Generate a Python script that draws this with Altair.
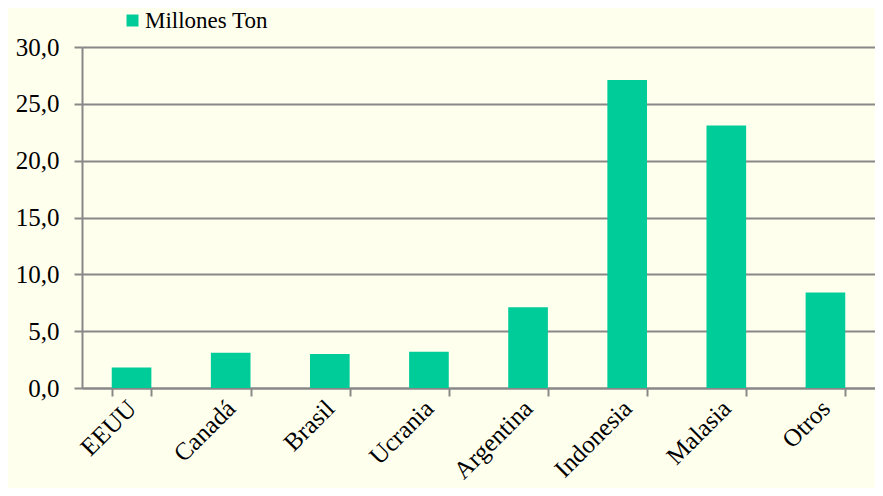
import altair as alt
import pandas as pd

categories = ["EEUU", "Canadá", "Brasil", "Ucrania", "Argentina", "Indonesia", "Malasia", "Otros"]
values = [1.8, 3.1, 3.0, 3.2, 7.1, 27.1, 23.1, 8.4]
series = ["Millones Ton"] * len(categories)

df = pd.DataFrame({"País": categories, "Valor": values, "Serie": series})

FONT = "Liberation Serif"
GRAY = "#888888"

chart = alt.Chart(df).mark_bar(color="#00CC99").encode(
    x=alt.X("País:N", sort=categories,
            scale=alt.Scale(paddingInner=0.6, paddingOuter=0.3, round=False),
            axis=alt.Axis(title=None, labelAngle=-45, labelAlign="right", labelBaseline="middle",
                          labelPadding=8, tickBand="extent", tickSize=8, tickColor=GRAY,
                          tickWidth=2, domainColor=GRAY, domainWidth=2, grid=False,
                          labelFont=FONT, labelFontSize=25, labelColor="black")),
    y=alt.Y("Valor:Q", scale=alt.Scale(domain=[0, 30], nice=False),
            axis=alt.Axis(title=None, values=[0, 5, 10, 15, 20, 25, 30],
                          labelExpr="replace(format(datum.value, '.1f'), '.', ',')",
                          tickSize=8, tickColor=GRAY, tickWidth=2, domainColor=GRAY, domainWidth=2,
                          gridColor=GRAY, gridWidth=2, labelPadding=15,
                          labelFont=FONT, labelFontSize=25, labelColor="black")),
    color=alt.Color("Serie:N", scale=alt.Scale(range=["#00CC99"]),
                    legend=alt.Legend(title=None, orient="none", legendX=39, legendY=-38,
                                      symbolType="square", symbolSize=144, symbolStrokeWidth=0,
                                      labelFont=FONT, labelFontSize=23, labelColor="black",
                                      labelOffset=1)),
).properties(
    width=793, height=341,
    padding={"left": 74, "top": 39, "right": 0, "bottom": 100},
    autosize=alt.AutoSizeParams(type="none"),
    background="#FFFFEE",
).configure_view(stroke=None, fill="#FFFFEE")

chart.save("out.html", embed_options={"renderer": "svg", "actions": False})
